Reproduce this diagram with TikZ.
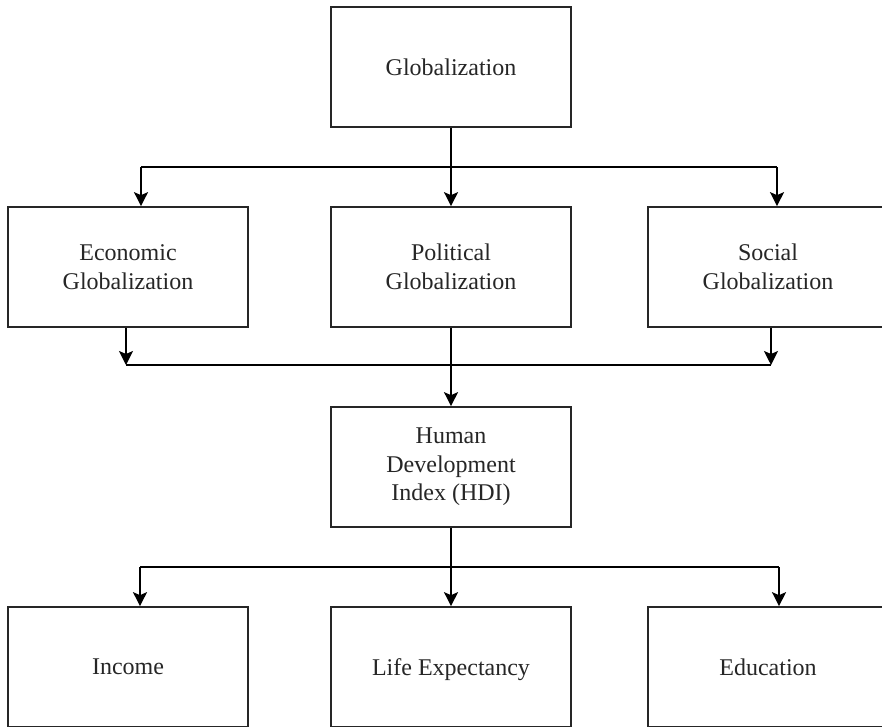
\documentclass[tikz,border=0pt]{standalone}
\usepackage{fontspec}
\setmainfont{Liberation Serif}
\usetikzlibrary{arrows.meta}
\begin{document}
\begin{tikzpicture}[x=1pt,y=-1pt,
  box/.style={draw=black!85, line width=1.7pt, minimum width=240pt, minimum height=120pt,
    inner sep=0pt, align=center, text=black!85, font=\fontsize{24}{28.5}\selectfont},
  single/.style={text depth=0pt},
  conn/.style={line width=1.7pt, draw=black},
  arr/.style={conn, -{Stealth[length=14pt,width=14pt,inset=3pt]}}]
\useasboundingbox[fill=white] (0,0) rectangle (882,726);
% nodes
\node[box,single] (glob) at (451,67) {Globalization};
\node[box] (eco)  at (128,267) {Economic\\Globalization};
\node[box] (pol)  at (451,267) {Political\\Globalization};
\node[box] (soc)  at (768,267) {Social\\Globalization};
\node[box] (hdi)  at (451,467) {Human\\Development\\Index (HDI)};
\node[box,single] (inc)  at (128,667) {Income};
\node[box,single] (life) at (451,667) {Life Expectancy};
\node[box,single] (edu)  at (768,667) {Education};
% level 1 bus
\coordinate (b1L) at (141,167);
\coordinate (b1R) at (777,167);
\draw[conn] (b1L) -- (b1R);
\draw[arr] (glob.south) -- (pol.north);
\draw[arr] (b1L) -- (b1L |- eco.north);
\draw[arr] (b1R) -- (b1R |- soc.north);
% level 2 bus
\coordinate (b2L) at (126,365);
\coordinate (b2R) at (771,365);
\draw[conn] (b2L) -- (b2R);
\draw[arr] (b2L |- eco.south) -- (b2L);
\draw[arr] (b2R |- soc.south) -- (b2R);
\draw[arr] (pol.south) -- (hdi.north);
% level 3 bus
\coordinate (b3L) at (140,567);
\coordinate (b3R) at (779,567);
\draw[conn] (b3L) -- (b3R);
\draw[arr] (hdi.south) -- (life.north);
\draw[arr] (b3L) -- (b3L |- inc.north);
\draw[arr] (b3R) -- (b3R |- edu.north);
\end{tikzpicture}
\end{document}
